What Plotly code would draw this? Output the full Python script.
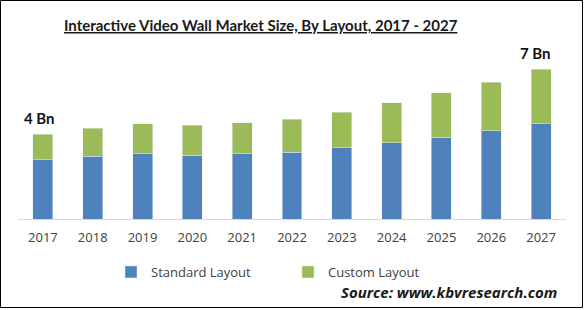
import plotly.graph_objects as go

years = ["2017", "2018", "2019", "2020", "2021", "2022", "2023", "2024", "2025", "2026", "2027"]
standard = [2.76, 2.94, 3.04, 2.99, 3.04, 3.13, 3.32, 3.57, 3.83, 4.13, 4.44]
custom = [1.21, 1.31, 1.40, 1.40, 1.45, 1.54, 1.68, 1.86, 2.07, 2.27, 2.56]
totals = [s + c for s, c in zip(standard, custom)]
label_years = ["2017", "2027"]
label_texts = ["4 Bn", "7 Bn"]

BLUE = "#4F81BD"
GREEN = "#9BBB59"

fig = go.Figure()
fig.add_trace(go.Bar(x=years, y=standard, name="Standard Layout", marker_color=BLUE))
fig.add_trace(go.Bar(x=years, y=custom, name="Custom Layout", marker_color=GREEN))

annotations = []
for yr, txt in zip(label_years, label_texts):
    i = years.index(yr)
    annotations.append(dict(
        x=i, y=totals[i], text=f"<b>{txt}</b>", showarrow=False,
        yanchor="bottom", yshift=5, xshift=-3 if i == 0 else -6,
        font=dict(family="Lato", size=15, color="#111111")))

annotations.append(dict(
    xref="paper", yref="paper", x=(261 - 18) / 548, y=(219 - 25) / 159,
    xanchor="center", yanchor="middle",
    text="<b><u>Interactive Video Wall Market Size, By Layout, 2017 - 2027</u></b>",
    showarrow=False, font=dict(family="Lato", size=15, color="#1a1a1a")))
annotations.append(dict(
    xref="paper", yref="paper", x=(559 - 18) / 548, y=(219 - 292) / 159,
    xanchor="right", yanchor="middle",
    text="<b><i>Source: www.kbvresearch.com</i></b>",
    showarrow=False, font=dict(family="Open Sans", size=15, color="#1a1a1a")))

fig.update_layout(
    width=584, height=310,
    margin=dict(l=18, r=18, t=60, b=91, autoexpand=False),
    barmode="stack", bargap=0.6,
    paper_bgcolor="white", plot_bgcolor="white",
    showlegend=True,
    legend=dict(orientation="h", x=(111 - 18) / 548, y=(219 - 272) / 159,
                xanchor="left", yanchor="middle",
                font=dict(family="Open Sans", size=13, color="#404040"),
                entrywidth=132, entrywidthmode="pixels", traceorder="normal"),
    xaxis=dict(type="category", range=[-0.5, len(years) - 0.5], autorange=False,
               showgrid=False, showline=True, linecolor="#D9D9D9", linewidth=1,
               ticks="outside", ticklen=6, tickcolor="rgba(0,0,0,0)",
               tickfont=dict(family="Open Sans", size=13, color="#404040"),
               fixedrange=True),
    yaxis=dict(showgrid=False, showticklabels=False, zeroline=False,
               range=[0, (219 - 60) / 21.4], autorange=False, fixedrange=True),
    annotations=annotations,
    shapes=[dict(type="rect", xref="paper", yref="paper",
                 x0=-17.5 / 548, x1=(583 - 18 - 0.5) / 548,
                 y0=(219 - 307.5) / 159, y1=(219 - 0.5) / 159,
                 line=dict(color="#000000", width=1))],
)

fig.write_html("out.html")
